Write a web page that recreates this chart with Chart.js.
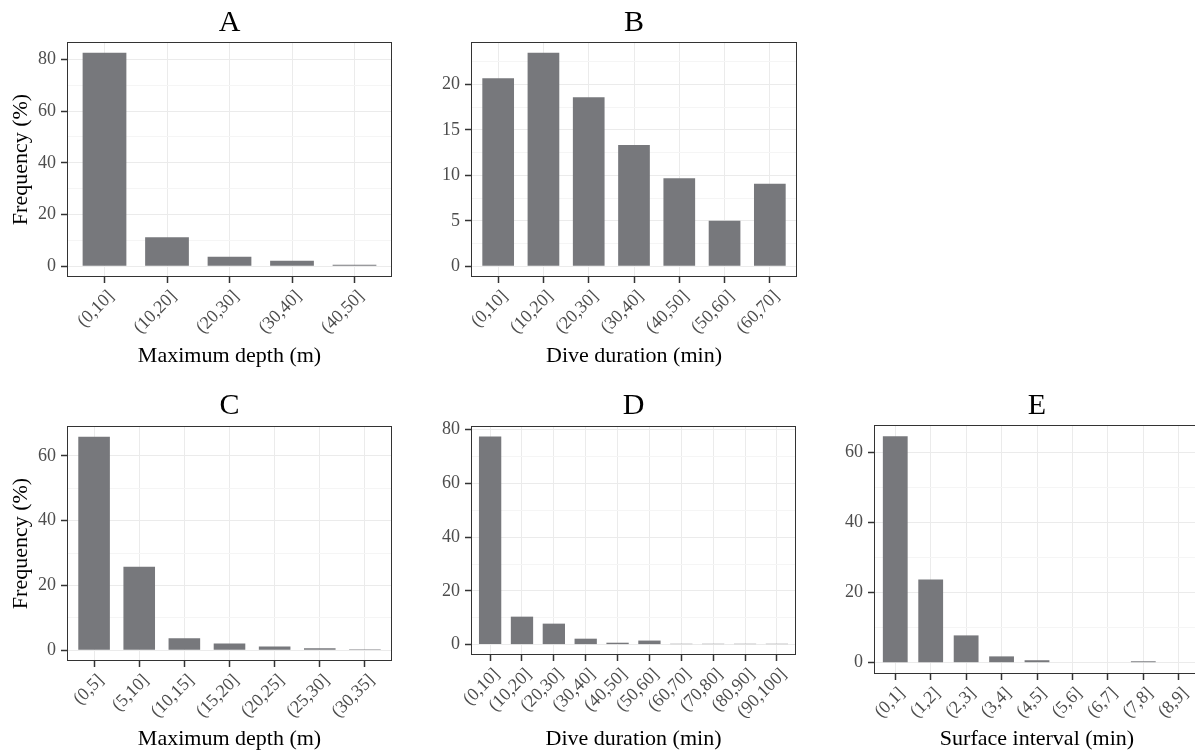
<!DOCTYPE html>
<html>
<head>
<meta charset="utf-8">
<script src="https://cdn.jsdelivr.net/npm/chart.js@4.4.1/dist/chart.umd.min.js"></script>
<style>
  html, body { margin: 0; padding: 0; background: #fff; overflow: hidden; width: 1195px; height: 751px; }
  canvas { position: absolute; }
</style>
</head>
<body>
<canvas id="panelA"></canvas>
<canvas id="panelB"></canvas>
<canvas id="panelC"></canvas>
<canvas id="panelD"></canvas>
<canvas id="panelE"></canvas>
<script>
// binned frequencies (%)
const depthBinsA = ["(0,10]", "(10,20]", "(20,30]", "(30,40]", "(40,50]"];
const freqA = [82.6, 11.2, 3.7, 2.2, 0.6];

const durationBinsB = ["(0,10]", "(10,20]", "(20,30]", "(30,40]", "(40,50]", "(50,60]", "(60,70]"];
const freqB = [20.7, 23.5, 18.6, 13.35, 9.7, 5.0, 9.07];

const depthBinsC = ["(0,5]", "(5,10]", "(10,15]", "(15,20]", "(20,25]", "(25,30]", "(30,35]"];
const freqC = [65.9, 25.8, 3.7, 2.1, 1.2, 0.6, 0.3];

const durationBinsD = ["(0,10]", "(10,20]", "(20,30]", "(30,40]", "(40,50]", "(50,60]", "(60,70]", "(70,80]", "(80,90]", "(90,100]"];
const freqD = [77.5, 10.4, 7.8, 2.2, 0.7, 1.5, 0.3, 0.3, 0.3, 0.3];

const intervalBinsE = ["(0,1]", "(1,2]", "(2,3]", "(3,4]", "(4,5]", "(5,6]", "(6,7]", "(7,8]", "(8,9]"];
const freqE = [64.7, 23.8, 7.8, 1.8, 0.7, 0.15, 0.15, 0.4, 0.15];

const FONT = "'Liberation Serif', 'DejaVu Serif', serif";
const BAR_COLOR = "#77787c";

function isMajor(v, step) {
  const r = v / step;
  return Math.abs(r - Math.round(r)) < 1e-6;
}

// full box around the plotting area, like theme_bw
const panelBorder = {
  id: "panelBorder",
  afterDatasetsDraw(chart) {
    const { ctx, chartArea: a } = chart;
    ctx.save();
    ctx.strokeStyle = "#333333";
    ctx.lineWidth = 1;
    ctx.strokeRect(a.left + 0.5, a.top + 0.5, a.right - a.left - 1, a.bottom - a.top - 1);
    ctx.restore();
  },
};

function createPanel(p) {
  const canvas = document.getElementById(p.id);
  canvas.width = p.canvas.w;
  canvas.height = p.canvas.h;
  canvas.style.left = p.canvas.x + "px";
  canvas.style.top = p.canvas.y + "px";

  const yMax = Math.max(...p.values);
  const lo = -0.05 * yMax;
  const hi = 1.05 * yMax;
  const half = p.step / 2;

  return new Chart(canvas, {
    type: "bar",
    data: {
      datasets: [
        {
          data: p.values.map((v, i) => ({ x: i + 1, y: v })),
          backgroundColor: BAR_COLOR,
          borderWidth: 0,
          barPercentage: 0.7,
          categoryPercentage: 1,
        },
      ],
    },
    options: {
      responsive: false,
      animation: false,
      layout: {
        padding: { left: 0, top: 0, bottom: 0, right: p.canvas.x + p.canvas.w - p.box.r },
      },
      plugins: {
        legend: { display: false },
        tooltip: { enabled: false },
        title: {
          display: true,
          text: p.title,
          fullSize: false,
          color: "#000",
          font: { family: FONT, size: 30, weight: "normal", lineHeight: 1.2 },
          padding: { top: p.titlePad, bottom: p.box.t - p.canvas.y - 36 - p.titlePad },
        },
      },
      scales: {
        x: {
          type: "linear",
          min: 0.4,
          max: p.labels.length + 0.6,
          offset: false,
          afterBuildTicks: (axis) => {
            axis.ticks = p.labels.map((_, i) => ({ value: i + 1 }));
          },
          afterFit: (axis) => {
            axis.height = p.canvas.y + p.canvas.h - p.box.b;
            axis.paddingLeft = 0;
            axis.paddingRight = 0;
          },
          border: { display: false },
          grid: {
            offset: false,
            color: "#ebebeb",
            lineWidth: 1,
            tickColor: "#333333",
            tickWidth: 1.5,
            tickLength: 6,
          },
          ticks: {
            autoSkip: false,
            minRotation: 45,
            maxRotation: 45,
            padding: 3,
            labelOffset: 7,
            color: "#4d4d4d",
            font: { family: FONT, size: 18 },
            callback: (v) => p.labels[Math.round(v) - 1] ?? "",
          },
          title: {
            display: true,
            text: p.xTitle,
            color: "#000",
            font: { family: FONT, size: 22, lineHeight: 1 },
            padding: { top: 0, bottom: p.xTitlePad },
          },
        },
        y: {
          type: "linear",
          min: lo,
          max: hi,
          afterBuildTicks: (axis) => {
            const ticks = [];
            for (let v = Math.ceil(lo / half) * half; v <= hi + 1e-9; v += half) {
              ticks.push({ value: Math.round(v * 1000) / 1000 });
            }
            axis.ticks = ticks;
          },
          afterFit: (axis) => {
            axis.width = p.box.l - p.canvas.x;
            axis.paddingTop = 0;
            axis.paddingBottom = 0;
          },
          border: { display: false },
          grid: {
            color: (ctx) => (isMajor(ctx.tick.value, p.step) ? "#ebebeb" : "#f5f5f5"),
            lineWidth: 1,
            tickColor: (ctx) => (isMajor(ctx.tick.value, p.step) ? "#333333" : "rgba(0,0,0,0)"),
            tickWidth: 1.5,
            tickLength: 6,
          },
          ticks: {
            autoSkip: false,
            padding: 5,
            color: "#4d4d4d",
            font: { family: FONT, size: 18 },
            callback: (v) => (isMajor(v, p.step) ? String(v) : ""),
          },
          title: {
            display: !!p.yTitle,
            text: p.yTitle || "",
            color: "#000",
            font: { family: FONT, size: 22, lineHeight: 1 },
            padding: { top: 10, bottom: 0 },
          },
        },
      },
    },
    plugins: [panelBorder],
  });
}

const panels = [
  {
    id: "panelA", title: "A", labels: depthBinsA, values: freqA, step: 20,
    xTitle: "Maximum depth (m)", yTitle: "Frequency (%)",
    canvas: { x: 0, y: 0, w: 400, h: 375 }, box: { l: 67, r: 392, t: 42, b: 277 },
    titlePad: 5, xTitlePad: 8,
  },
  {
    id: "panelB", title: "B", labels: durationBinsB, values: freqB, step: 5,
    xTitle: "Dive duration (min)", yTitle: null,
    canvas: { x: 400, y: 0, w: 400, h: 375 }, box: { l: 471, r: 797, t: 42, b: 277 },
    titlePad: 5, xTitlePad: 8,
  },
  {
    id: "panelC", title: "C", labels: depthBinsC, values: freqC, step: 20,
    xTitle: "Maximum depth (m)", yTitle: "Frequency (%)",
    canvas: { x: 0, y: 385, w: 400, h: 366 }, box: { l: 67, r: 392, t: 426, b: 661 },
    titlePad: 3, xTitlePad: 1,
  },
  {
    id: "panelD", title: "D", labels: durationBinsD, values: freqD, step: 20,
    xTitle: "Dive duration (min)", yTitle: null,
    canvas: { x: 400, y: 385, w: 400, h: 366 }, box: { l: 471, r: 796, t: 426, b: 655 },
    titlePad: 3, xTitlePad: 1,
  },
  {
    id: "panelE", title: "E", labels: intervalBinsE, values: freqE, step: 20,
    xTitle: "Surface interval (min)", yTitle: null,
    canvas: { x: 800, y: 385, w: 410, h: 366 }, box: { l: 874, r: 1200, t: 425, b: 674 },
    titlePad: 3, xTitlePad: 1,
  },
];

const charts = panels.map(createPanel);
</script>
</body>
</html>
